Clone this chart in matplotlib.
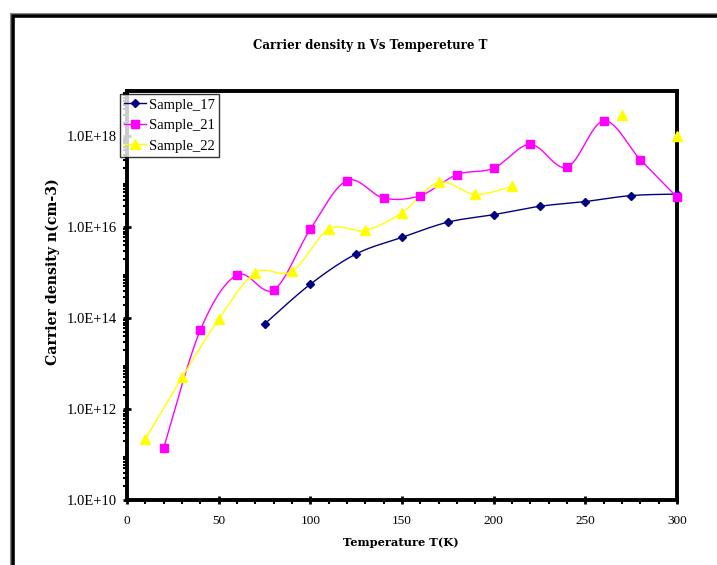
import numpy as np
import matplotlib
matplotlib.use("Agg")
import matplotlib.pyplot as plt
from matplotlib.ticker import FixedLocator, FuncFormatter, MultipleLocator, LogLocator, NullFormatter
from matplotlib.patches import Rectangle

# ---- data ----
temps_17 = [75, 100, 125, 150, 175, 200, 225, 250, 275, 300]
n_17 = [7.4e13, 5.6e14, 2.6e15, 6.0e15, 1.3e16, 1.9e16, 2.9e16, 3.7e16, 5.0e16, 5.4e16]

temps_21 = [20, 40, 60, 80, 100, 120, 140, 160, 180, 200, 220, 240, 260, 280, 300]
n_21 = [1.4e11, 5.5e13, 9.0e14, 4.2e14, 9.1e15, 1.07e17, 4.4e16, 5.0e16, 1.45e17,
        2.0e17, 6.7e17, 2.1e17, 2.2e18, 3.1e17, 4.6e16]

temps_22 = [10, 30, 50, 70, 90, 110, 130, 150, 170, 190, 210, 270, 300]
n_22 = [2.2e11, 5.0e12, 9.5e13, 1.0e15, 1.07e15, 9.1e15, 8.6e15, 2.1e16, 9.8e16,
        5.3e16, 8.0e16, 2.9e18, 1.0e18]
connected_22 = 11  # first 11 points joined by a line; last two are isolated

labels = ["Sample_17", "Sample_21", "Sample_22"]
colors = ["#000080", "#FF00FF", "#FFFF00"]
title = "Carrier density n Vs Tempereture T"
xlabel = "Temperature T(K)"
ylabel = "Carrier density n(cm-3)"


def smooth(xs, ys, n=30):
    """Catmull-Rom smoothing in (x, log10 y) space (Excel-like smoothed line)."""
    x = np.asarray(xs, float)
    y = np.log10(np.asarray(ys, float))
    px = np.concatenate([[x[0]], x, [x[-1]]])
    py = np.concatenate([[y[0]], y, [y[-1]]])
    ox, oy = [], []
    for i in range(1, len(px) - 2):
        p0 = np.array([px[i - 1], py[i - 1]])
        p1 = np.array([px[i], py[i]])
        p2 = np.array([px[i + 1], py[i + 1]])
        p3 = np.array([px[i + 2], py[i + 2]])
        c1 = p1 + (p2 - p0) / 6.0
        c2 = p2 - (p3 - p1) / 6.0
        t = np.linspace(0, 1, n)[:, None]
        b = ((1 - t) ** 3) * p1 + 3 * ((1 - t) ** 2) * t * c1 + 3 * (1 - t) * t ** 2 * c2 + t ** 3 * p2
        ox.extend(b[:, 0])
        oy.extend(b[:, 1])
    return np.array(ox), 10 ** np.array(oy)


serif = ["Liberation Serif", "DejaVu Serif"]
bold_serif = ["DejaVu Serif"]

fig = plt.figure(figsize=(7.17, 5.65), dpi=100)
fig.patch.set_facecolor("white")

# outer frame (double line, extends past right/bottom edges)
fig.patches.append(Rectangle((10 / 717, -0.05), 1.2, (565 - 13) / 565 + 0.05,
                             transform=fig.transFigure, fill=False,
                             edgecolor="#888888", linewidth=0.8))
fig.patches.append(Rectangle((13 / 717, -0.05), 1.2, (565 - 16) / 565 + 0.05,
                             transform=fig.transFigure, fill=False,
                             edgecolor="black", linewidth=2.6))

ax = fig.add_axes([127 / 717, 65 / 565, 550 / 717, 409 / 565])
ax.set_yscale("log")
ax.set_xlim(0, 300)
ax.set_ylim(1e10, 1e19)

# Sample_17
sx, sy = smooth(temps_17, n_17)
ax.plot(sx, sy, color=colors[0], lw=1.0, clip_on=False)
ax.plot(temps_17, n_17, linestyle="none", marker="D", ms=4.5, color=colors[0], clip_on=False, zorder=4)

# Sample_21
sx, sy = smooth(temps_21, n_21)
ax.plot(sx, sy, color=colors[1], lw=1.0, clip_on=False)
ax.plot(temps_21, n_21, linestyle="none", marker="s", ms=6, color=colors[1], clip_on=False, zorder=4)

# Sample_22
sx, sy = smooth(temps_22[:connected_22], n_22[:connected_22])
ax.plot(sx, sy, color=colors[2], lw=1.0, clip_on=False)
ax.plot(temps_22, n_22, linestyle="none", marker="^", ms=6.5, color=colors[2], clip_on=False, zorder=4)

# legend proxies
h1, = ax.plot([], [], color=colors[0], marker="D", ms=4.5, lw=1.0)
h2, = ax.plot([], [], color=colors[1], marker="s", ms=6, lw=1.0)
h3, = ax.plot([], [], color=colors[2], marker="^", ms=6.5, lw=1.0)
leg = fig.legend([h1, h2, h3], labels, loc="upper left",
                 bbox_to_anchor=(120 / 717, 1 - 94 / 565), bbox_transform=fig.transFigure,
                 prop={"family": serif, "size": 10.5}, frameon=True, fancybox=False,
                 borderpad=0.3, labelspacing=0.5, handlelength=1.5, handletextpad=0.2,
                 borderaxespad=0.0)
leg.get_frame().set_edgecolor("black")
leg.get_frame().set_linewidth(1.0)

# ticks
ax.yaxis.set_major_locator(FixedLocator([1e10, 1e12, 1e14, 1e16, 1e18]))
ax.yaxis.set_major_formatter(FuncFormatter(lambda v, p: f"{v:.1E}"))
ax.yaxis.set_minor_locator(LogLocator(base=10, subs=np.arange(2, 10), numticks=30))
ax.yaxis.set_minor_formatter(NullFormatter())
ax.xaxis.set_major_locator(MultipleLocator(50))
ax.xaxis.set_minor_locator(MultipleLocator(10))
ax.tick_params(axis="both", which="major", direction="inout", length=6, width=2.0,
               labelsize=10.5, pad=4)
ax.tick_params(axis="both", which="minor", direction="out", length=3, width=1.5)
ax.tick_params(axis="x", which="major", pad=8, labelsize=9.5)
for lab in ax.get_xticklabels() + ax.get_yticklabels():
    lab.set_family(serif)
for sp in ax.spines.values():
    sp.set_linewidth(2.8)
    sp.set_color("black")

fig.text(401 / 717, 1 - 542 / 565, xlabel, ha="center", va="center",
         family=bold_serif, fontweight="bold", fontsize=8.2)
fig.text(53 / 717, 1 - 272 / 565, ylabel, ha="center", va="center", rotation=90,
         family=bold_serif, fontweight="bold", fontsize=10.2)
fig.text(370 / 717, 1 - 45 / 565, title, ha="center", va="center",
         family=bold_serif, fontweight="bold", fontsize=8.5)

fig.savefig("out.png", dpi=100)
